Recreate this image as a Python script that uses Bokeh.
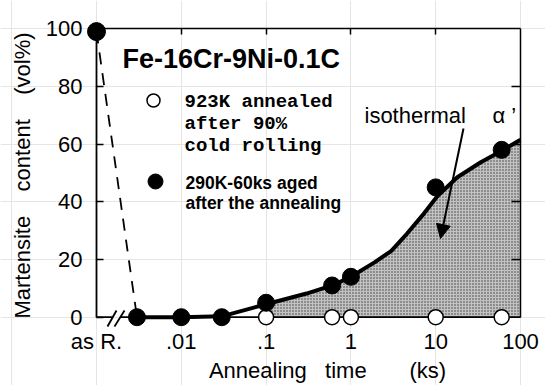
import math
from bokeh.plotting import figure
from bokeh.models import Range1d, LinearAxis, LogAxis, FixedTicker, Label, Arrow, NormalHead
from bokeh.embed import file_html
from bokeh.resources import INLINE

# ---------------- data ----------------
asr_x = [0.001]
asr_y = [99]
drop_x = [0.001, 0.003]
drop_y = [99, 0]
filled_x = [0.003, 0.01, 0.03, 0.1, 0.6, 1, 10, 60]
filled_y = [0, 0, 0, 5, 11, 14, 45, 58]
open_x = [0.1, 0.6, 1, 10, 60]
open_y = [0, 0, 0, 0, 0]
curve_x = [0.003, 0.01, 0.03, 0.1, 0.3, 0.6, 1, 1.9, 3, 4.6, 7.3, 10.5, 18, 34, 61, 100]
curve_y = [0, 0, 0.3, 4.5, 8.2, 11, 14, 19, 23, 29, 36, 42, 48.5, 53.7, 57.8, 61.5]
x_ticks = [0.001, 0.01, 0.1, 1, 10, 100]
x_tick_labels = ["as R.", ".01", ".1", "1", "10", "100"]
y_ticks = [0, 20, 40, 60, 80, 100]
top_ticks = [0.01, 0.1, 1, 10]
right_ticks = [20, 40, 60, 80]

# ---------------- layout ----------------
W, H = 545, 385
XL_PX, XR_PX = 96.0, 520.0        # pixel of x=0.001 and x=100
Y0_PX, Y100_PX = 316.7, 28.2      # pixel of y=0 and y=100
dec = (XR_PX - XL_PX) / 5.0
ypu = (Y0_PX - Y100_PX) / 100.0

def px2x(px):
    return 10 ** (-3 + (px - XL_PX) / dec)

def px2y(py):
    return (Y0_PX - py) / ypu

FONT = "Liberation Sans"

p = figure(width=W, height=H, x_axis_type="log",
           x_axis_location=None, y_axis_location=None,
           x_range=Range1d(px2x(0), px2x(W)), y_range=Range1d(px2y(H), px2y(0)),
           output_backend="svg", toolbar_location=None, min_border=0)
p.outline_line_color = None
p.background_fill_color = "white"
p.border_fill_color = "white"

# shaded region under the isothermal curve
p.varea(x=curve_x[3:], y1=[0] * len(curve_x[3:]), y2=curve_y[3:],
        fill_color="#c2c2c2", hatch_pattern="dot", hatch_color="#3a3a3a",
        hatch_scale=3, hatch_weight=1.2)

# baseline with axis break
p.segment(x0=[px2x(XL_PX), px2x(120)], x1=[px2x(112), px2x(XR_PX)], y0=[0, 0], y1=[0, 0],
          line_color="black", line_width=1.8)
p.segment(x0=[px2x(107), px2x(114)], x1=[px2x(116), px2x(124)],
          y0=[px2y(326), px2y(326)], y1=[px2y(310), px2y(310)],
          line_color="black", line_width=1.8)

# dashed drop from as-received
p.line(drop_x, drop_y, line_color="black", line_width=1.8, line_dash="12 9")

# fitted curve
p.line(curve_x, curve_y, line_color="black", line_width=4)

# markers
p.scatter(open_x, open_y, marker="circle", size=15, fill_color="white",
          line_color="black", line_width=1.5)
p.scatter(filled_x, filled_y, marker="circle", size=17, fill_color="black", line_color="black")
p.scatter(asr_x, asr_y, marker="circle", size=18, fill_color="black", line_color="black")

# ---------------- axes ----------------
xb = LogAxis(fixed_location=0, ticker=FixedTicker(ticks=x_ticks),
             major_label_overrides={t: l for t, l in zip(x_ticks, x_tick_labels)})
xb.axis_line_color = None
xb.major_tick_line_color = None
xb.minor_tick_line_color = None
xb.major_label_text_font = FONT
xb.major_label_text_font_size = "22px"
xb.major_label_text_color = "black"
xb.major_label_standoff = 6
p.add_layout(xb, "below")

yl = LinearAxis(fixed_location=0.001, ticker=FixedTicker(ticks=y_ticks), bounds=(0, 100))
yl.axis_line_width = 1.8
yl.major_tick_in = 7
yl.major_tick_out = 0
yl.major_tick_line_width = 1.5
yl.minor_tick_line_color = None
yl.major_label_text_font = FONT
yl.major_label_text_font_size = "22px"
yl.major_label_text_color = "black"
yl.major_label_standoff = 14
p.add_layout(yl, "left")

xt = LogAxis(fixed_location=100, ticker=FixedTicker(ticks=top_ticks), bounds=(0.001, 100))
xt.axis_line_width = 1.5
xt.major_tick_in = 6
xt.major_tick_out = 0
xt.major_tick_line_width = 1.5
xt.minor_tick_line_color = None
xt.major_label_text_color = None
xt.major_label_text_font_size = "1px"
p.add_layout(xt, "above")

yr = LinearAxis(fixed_location=100, ticker=FixedTicker(ticks=right_ticks), bounds=(0, 100))
yr.axis_line_width = 1.5
yr.major_tick_in = 9
yr.major_tick_out = 0
yr.major_tick_line_width = 1.5
yr.minor_tick_line_color = None
yr.major_label_text_color = None
yr.major_label_text_font_size = "1px"
p.add_layout(yr, "right")

# ---------------- texts ----------------
def lab(text, x, y, size, style="normal", font=FONT, align="left", angle=0):
    p.add_layout(Label(x=x, y=H - y, x_units="screen", y_units="screen", text=text,
                       text_font=font, text_font_size=size, text_font_style=style,
                       text_align=align, text_baseline="middle", text_color="black",
                       angle=angle))

NB = "\u00a0"
lab("Fe-16Cr-9Ni-0.1C", 122, 58, "27px", "bold")
lab("923K annealed", 184, 101, "19px", "bold", "Liberation Mono")
lab("after 90%", 184, 123, "19px", "bold", "Liberation Mono")
lab("cold rolling", 184, 145, "19px", "bold", "Liberation Mono")
lab("290K-60ks aged", 185, 182, "17.5px", "bold")
lab("after the annealing", 185, 202, "17.5px", "bold")
lab("isothermal", 364, 115, "22px")
lab("\u03b1 \u2019", 492, 115, "22px")
lab("Annealing" + NB * 3 + "time" + NB * 7 + "(ks)", 327, 370, "22px", align="center")
lab("Martensite" + NB * 4 + "content" + NB * 4 + "(vol%)", 22, 175, "22px",
    align="center", angle=math.pi / 2)

# sample legend markers
p.scatter([px2x(153)], [px2y(100)], marker="circle", size=13, fill_color="white",
          line_color="black", line_width=1.5)
p.scatter([px2x(155)], [px2y(181)], marker="circle", size=15, fill_color="black",
          line_color="black")

# arrow pointing into the shaded area
p.add_layout(Arrow(end=NormalHead(size=14, fill_color="black", line_color="black"),
                   x_start=463, y_start=H - 128, x_end=440, y_end=H - 238,
                   start_units="screen", end_units="screen",
                   line_color="black", line_width=2))

open("out.html", "w").write(file_html(p, INLINE))
